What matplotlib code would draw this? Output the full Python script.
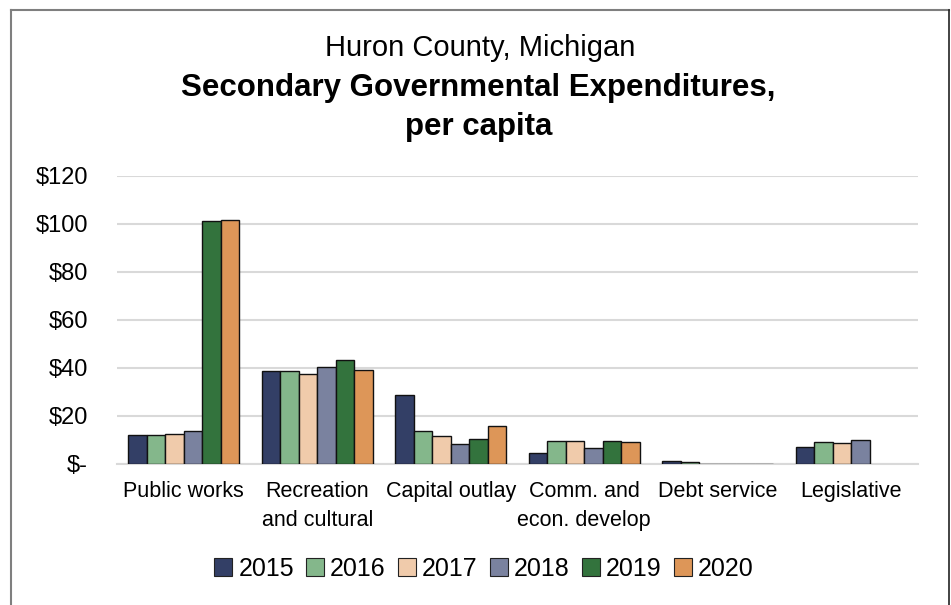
import numpy as np
import matplotlib.pyplot as plt
from matplotlib.lines import Line2D

plt.rcParams['font.family'] = ['Liberation Sans', 'DejaVu Sans']

categories = ["Public works", "Recreation\nand cultural", "Capital outlay",
              "Comm. and\necon. develop", "Debt service", "Legislative"]
years = ["2015", "2016", "2017", "2018", "2019", "2020"]
colors = ["#333F66", "#84B78B", "#F0CBAB", "#7A829F", "#33733D", "#DD9658"]

# per capita expenditures, one list per year (category order as above)
v2015 = [12.2, 38.9, 28.9, 4.4, 1.3, 6.9]
v2016 = [11.9, 38.6, 13.8, 9.4, 0.7, 9.2]
v2017 = [12.5, 37.6, 11.7, 9.4, 0.2, 8.6]
v2018 = [13.6, 40.3, 8.2, 6.5, 0.2, 10.2]
v2019 = [101.4, 43.5, 10.4, 9.7, 0.2, 0.0]
v2020 = [101.8, 39.2, 15.8, 9.1, 0.2, 0.0]
series = [v2015, v2016, v2017, v2018, v2019, v2020]

yticks = [0, 20, 40, 60, 80, 100, 120]
ytick_labels = ["$-", "$20", "$40", "$60", "$80", "$100", "$120"]

fig = plt.figure(figsize=(9.51, 6.05), dpi=100)
ax = fig.add_axes([117 / 951, 1 - 464 / 605, (918 - 117) / 951, (464 - 176) / 605])

x = np.arange(len(categories))
w = 0.139
for i, (vals, c, yr) in enumerate(zip(series, colors, years)):
    bars = ax.bar(x + (i - 2.5) * w, vals, w, color=c, edgecolor="#111111",
                  linewidth=1.0, label=yr, zorder=3)
    for b, v in zip(bars, vals):
        if v == 0:
            b.set_visible(False)

ax.set_ylim(0, 120)
ax.set_xlim(-0.5, len(categories) - 0.5)
ax.set_yticks(yticks)
ax.set_yticklabels(ytick_labels, fontsize=17)
ax.set_xticks(x)
ax.set_xticklabels(categories, fontsize=15.5, linespacing=1.5)
ax.tick_params(length=0)
ax.tick_params(axis="y", pad=21)
ax.tick_params(axis="x", pad=12)
ax.grid(axis="y", color="#D9D9D9", linewidth=1.5, zorder=0)
for s in ["top", "right", "left"]:
    ax.spines[s].set_visible(False)
ax.spines["bottom"].set_color("#D9D9D9")
ax.spines["bottom"].set_linewidth(1.5)

fig.text(0.505, 1 - 48 / 605, "Huron County, Michigan", ha="center", va="center", fontsize=21)
fig.text(0.503, 1 - 88 / 605, "Secondary Governmental Expenditures,", ha="center",
         va="center", fontsize=22.5, fontweight="bold")
fig.text(0.503, 1 - 127 / 605, "per capita", ha="center", va="center",
         fontsize=22.5, fontweight="bold")

handles = [Line2D([], [], marker="s", linestyle="none", markersize=13,
                  markerfacecolor=c, markeredgecolor="#222222", markeredgewidth=0.8)
           for c in colors]
fig.legend(handles, years, loc="center", bbox_to_anchor=(484 / 951, 1 - 569 / 605),
           ncol=6, frameon=False, fontsize=18, handlelength=0.7, handletextpad=0.25,
           columnspacing=0.5)

# chart frame
fig.add_artist(Line2D([10.5 / 951, 949 / 951], [1 - 10 / 605, 1 - 10 / 605],
                      transform=fig.transFigure, color="#7F7F7F", linewidth=1.5))
fig.add_artist(Line2D([10.5 / 951, 10.5 / 951], [0, 1 - 10 / 605],
                      transform=fig.transFigure, color="#7F7F7F", linewidth=1.5))
fig.add_artist(Line2D([949 / 951, 949 / 951], [0, 1 - 10 / 605],
                      transform=fig.transFigure, color="#222222", linewidth=1.2))

fig.savefig("out.png", dpi=100)
